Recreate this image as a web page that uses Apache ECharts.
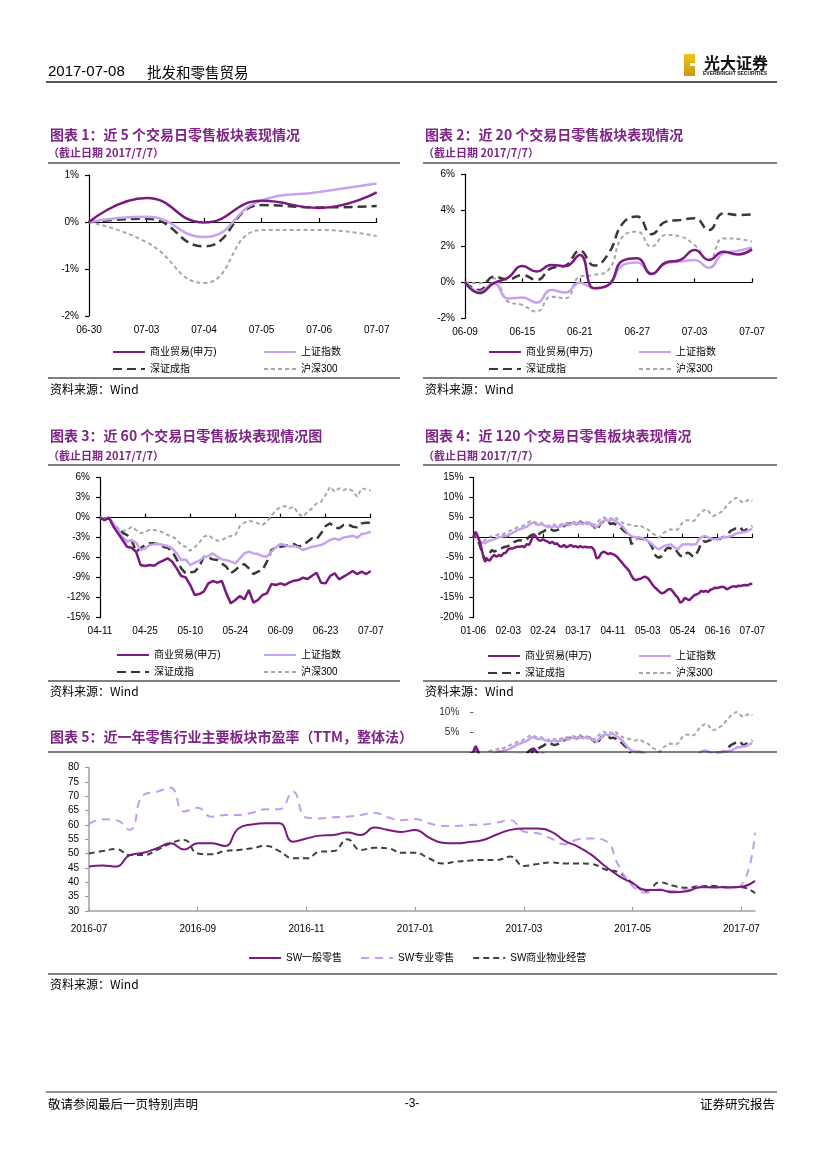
<!DOCTYPE html>
<html><head><meta charset="utf-8">
<script src="https://cdn.jsdelivr.net/npm/echarts@6/dist/echarts.min.js"></script>
<style>html,body{margin:0;padding:0;background:#fff;}#main{width:827px;height:1169px;}</style>
</head><body><div id="main"></div>
<script>
// ---------------- DATA ----------------
const tradeDays2017 = {
  '01':[6,9,10,11,12,13,16,17,18,19,20,23,24,25,26],
  '02':[3,6,7,8,9,10,13,14,15,16,17,20,21,22,23,24,27,28],
  '03':[1,2,3,6,7,8,9,10,13,14,15,16,17,20,21,22,23,24,27,28,29,30,31],
  '04':[5,6,7,10,11,12,13,14,17,18,19,20,21,24,25,26,27,28],
  '05':[2,3,4,5,8,9,10,11,12,15,16,17,18,19,22,23,24,25,26,31],
  '06':[1,2,5,6,7,8,9,12,13,14,15,16,19,20,21,22,23,26,27,28,29,30],
  '07':[3,4,5,6,7]
};
const peMonths = ['2016-07','2016-08','2016-09','2016-10','2016-11','2016-12','2017-01','2017-02','2017-03','2017-04','2017-05','2017-06'];
const peWeekDays = ['01','08','16','23'];
const peTail = ['2017-07-01','2017-07-07'];

const perfNames = ['商业贸易(申万)','上证指数','深证成指','沪深300'];
const peNames = ['SW一般零售','SW专业零售','SW商业物业经营'];

// 图表1 近5个交易日
const c1Trade = [0,0.51,-0.01,0.45,0.3,0.63];
const c1SH    = [0,0.11,-0.32,0.46,0.64,0.82];
const c1SZ    = [0,0.07,-0.52,0.36,0.31,0.34];
const c1HS300 = [0,-0.43,-1.3,-0.17,-0.17,-0.3];

// 图表2 近20个交易日
const c2Trade = [0,-0.6,-0.05,0.26,0.9,0.6,0.96,0.9,1.52,-0.33,-0.15,1.2,1.33,0.46,1.1,1.24,1.8,1.24,1.7,1.55,1.83];
const c2SH    = [0,-0.52,-0.05,-0.9,-0.85,-1.13,-0.43,-0.57,-0.02,-0.33,-0.15,0.96,1.1,0.5,1.05,1.15,1.24,0.81,1.61,1.74,1.93];
const c2SZ    = [0,-0.43,0.31,0.17,0.4,0.13,0.78,0.93,1.76,0.93,1.6,3.28,3.65,2.67,3.37,3.46,3.56,2.9,3.83,3.74,3.78];
const c2HS300 = [0,-0.05,0.22,-1.07,-1.26,-1.63,-0.8,-0.89,0.31,0.41,0.69,2.54,2.81,1.98,2.63,2.54,2.07,1.24,2.44,2.41,2.26];

// 图表3 近60个交易日
const c3Trade = [0,-0.35,0,-1.35,-2.35,-3.35,-4.35,-4.5,-5.1,-7.1,
  -7.25,-7.1,-7.2,-6.75,-6.45,-6.1,-6.6,-7.6,-8.75,-8.95,
  -10.1,-11.6,-11.45,-11.1,-9.85,-9.5,-9.75,-9.5,-11.35,-12.85,
  -12.35,-11.75,-12.25,-10.85,-12.75,-12.35,-11.6,-11.35,-9.95,-10.1,
  -9.85,-10.1,-9.7,-9.45,-9.35,-9,-9.2,-8.7,-8.25,-9.75,
  -9.85,-8.75,-8.35,-9.25,-8.85,-8.45,-8,-8.45,-8.1,-8.45,-8];
const c3SH = [0,-0.15,0,-0.85,-1.85,-2.85,-3.6,-3.35,-3.75,-4.85,
  -4.6,-4.1,-4,-3.95,-4.1,-4.25,-4.6,-5.35,-6.35,-6.25,
  -7.1,-6.75,-6.45,-5.95,-5.75,-5.35,-5.85,-6.25,-6.35,-6.6,
  -6.85,-6.1,-5.35,-5.1,-5.35,-5.45,-5.75,-5.85,-5.1,-4.45,
  -3.95,-4.1,-4.35,-4.25,-4.45,-4.85,-4.6,-4.35,-4.25,-4.1,
  -3.75,-3.35,-3.1,-3.35,-2.95,-2.85,-2.7,-3,-2.45,-2.35,-2.1];
const c3SZ = [0,-0.3,0,-1.1,-1.75,-2.25,-2.6,-3.35,-5.1,-4.6,
  -4.1,-3.85,-3.85,-3.95,-4.35,-4.5,-5.1,-6.25,-7.6,-8.35,
  -8.2,-8.1,-7.35,-5.85,-5.95,-6.25,-6.35,-6.85,-7.35,-8.35,
  -7.85,-7.25,-6.95,-7.6,-8.45,-8.1,-7.85,-6.6,-4.85,-4.5,
  -4.35,-4.25,-4.1,-3.95,-4.35,-4.1,-3.6,-3.1,-3.25,-2.35,
  -1.25,-0.85,-1.45,-1.6,-1.1,-1,-1.35,-1.45,-0.85,-0.75,-0.75];
const c3HS300 = [0,-0.2,0,-0.85,-1.6,-2,-1.85,-1.35,-1.85,-2.35,
  -2.1,-1.85,-1.85,-1.95,-2.25,-2.6,-2.85,-3.25,-4.1,-4.35,
  -4.95,-4.45,-3.75,-2.85,-2.6,-3.1,-3.45,-3.35,-2.95,-2.75,
  -2.6,-1.25,-0.75,-0.45,-0.6,-0.85,-1.1,-0.6,0.25,1.15,
  1.55,1.75,1.4,1.65,0.55,0.15,0.9,1.4,2.15,2.4,
  3.4,4.65,3.9,4.4,4.15,4.4,4,3.15,4.4,4.25,4.05];

// 图表4 近120个交易日
const c4Trade = [0,1.5,0.25,-1.4,-3.9,-6,-5.4,-5.75,-4.9,-4.3,
  -4.75,-4.3,-4.6,-3.9,-3.75,-2.9,-2.7,-2.7,-2.4,-2.25,
  -2.25,-2.1,-2.4,-1.6,-1.8,-0.6,0.9,0.25,-0.6,-0.75,
  -0.4,-0.75,-1,-1.4,-1,-1.6,-1.4,-2.1,-2.25,-1.8,
  -2.4,-2.1,-1.8,-2.25,-2.1,-2.4,-2.1,-2.4,-2.25,-2.4,
  -2.4,-2.4,-3.1,-5.2,-4.9,-3.9,-3.5,-3.75,-4.1,-3.9,
  -4.1,-4.4,-4.9,-5.6,-6.25,-7.0,-7.6,-8.3,-9.5,-10.4,
  -10.6,-10.4,-10.25,-9.9,-9.75,-10.1,-10.8,-11.7,-12.4,-12.9,
  -13.5,-13.9,-13.75,-13.3,-12.9,-12.9,-13.6,-14.4,-15.0,-16.25,
  -15.9,-15.0,-15.4,-15.6,-15.0,-14.4,-14.2,-13.9,-13.3,-13.5,
  -13.3,-13.6,-13.0,-12.8,-12.5,-12.6,-12.4,-12.25,-12.4,-12.9,
  -12.6,-12.3,-12.1,-12.3,-12.0,-12.1,-11.9,-11.8,-11.9,-11.6,-11.5];
const c4SH = [0,1.25,-0.15,-1,-1.25,-1.4,-1,-0.75,-0.6,-0.4,
  -0.15,0.25,0.1,0.5,0.4,0.65,0.9,1.25,1.5,1.9,
  2.1,2.3,2.6,2.75,3.2,3.6,3.75,3.4,3.2,3.4,
  3.2,2.9,2.75,2.6,2.75,2.9,2.6,2.75,2.9,3.2,
  3.4,3.2,3.4,3.6,3.3,3.6,3.75,3.4,3.6,3.4,
  3.6,3.3,2.9,2.6,3.2,3.6,4.25,4.4,4.25,4.4,
  4.6,4.2,3.8,3.3,2.9,2.2,1.5,0.8,0.4,0.2,
  0,0.1,0,-0.2,-0.4,-0.8,-1.2,-1.7,-2.25,-2.6,
  -2.9,-2.5,-2.1,-1.9,-1.8,-1.65,-2.2,-2.6,-2.9,-2.2,
  -1.65,-1.7,-1.6,-1.65,-1.8,-1.65,-1.6,-0.4,0.1,0.3,
  0.4,0.1,-0.15,-0.3,-0.4,-0.4,-0.1,0,0.2,0.1,
  0.3,0.4,0.7,1.0,1.25,1.2,1.4,1.4,1.7,2.0,2.25];
const c4SZ = [0,1.1,-0.6,-2.25,-4.3,-5.6,-4.75,-3.9,-3.1,-3.5,
  -3.25,-2.9,-2.7,-2.4,-2.25,-2.1,-1.8,-1.25,-1,-0.75,
  -0.6,-0.75,-0.6,-0.4,0.25,0.65,0.9,1.1,0.8,1.25,
  1.5,1.9,2.1,2.3,1.9,1.75,1.9,2.1,2.6,2.9,
  3.3,3.2,3.6,3.4,3.2,3.6,3.75,3.6,3.4,3.75,
  3.6,3.2,2.75,1.9,2.75,3.75,4,3.75,4,3.4,
  3.6,3.4,2.9,2.6,2.2,1.6,1.2,0.8,-1.6,-1.0,
  -0.3,0,-0.2,-0.3,-0.4,-0.9,-1.4,-2.5,-4.2,-4.8,
  -5.0,-4.6,-3.6,-2.8,-2.5,-2.7,-3.0,-2.9,-3.8,-4.5,
  -4.75,-4.2,-3.75,-3.9,-4.5,-4.75,-4.0,-2.9,-1.25,-0.9,
  -1.0,-0.8,-0.6,-0.5,-0.4,-0.2,-0.3,0,0.3,0.8,
  1.3,1.8,2.1,2.3,2.2,2.5,1.65,1.9,2.3,2.6,2.9];
const c4HS300 = [0,0.65,-0.15,-0.75,-1,-0.6,-0.15,0.25,0.4,0.65,
  0.65,0.9,1.1,0.9,1.25,1.5,1.75,2.1,2.3,2.6,
  2.75,2.9,3.2,3.6,4,4.25,4,3.75,3.6,3.75,
  3.4,3.2,2.9,3.2,3.4,3.2,2.9,3.2,3.4,3.6,
  3.75,3.6,3.85,4,3.75,4,4.2,3.85,4,3.85,
  3.75,3.4,3.2,3.6,4.25,4.8,5.1,4.8,5.1,4.8,
  4.8,5.2,4.6,4.2,3.75,3.5,3.3,3.3,3.1,2.9,
  2.9,3.1,3.0,2.6,2.4,2.1,1.6,1.1,0.8,0.3,
  0,0.6,1.25,1.6,2.0,2.1,1.9,1.9,2.1,3.0,
  3.8,4.2,4.4,4.3,4.2,4.2,5.0,5.8,6.25,6.8,
  7.1,6.7,6.0,5.4,5.6,6.0,6.25,6.6,7.2,8.0,
  8.6,9.2,9.6,10.0,9.8,9.2,8.75,9.0,9.4,9.6,9.2];

// 图表5 市盈率(TTM)
const peGeneral = [45.5,45.9,45.5,49.5,50.3,51.9,53.6,51.5,53.6,53.6,
  52.7,58.8,60.2,60.6,60.6,54.2,55.3,56.3,56.5,57.4,
  56.5,59.1,58.3,57.6,58.3,55.7,53.8,53.6,54.1,54.8,
  56.7,58.3,58.8,58.8,57.7,54.5,52.4,49.5,45.5,42.2,
  39.7,37.3,37.3,36.5,36.9,38.3,38.3,38.3,38.5,40.5];
const peSpecial = [60.3,62,61.7,58.3,70.5,71.6,73,64.7,66,62.9,
  63.5,63.5,64.3,65.5,65.5,71.6,62.6,62.3,62.7,62.9,
  63.5,64.3,62.7,61.7,62.1,60.6,59.7,59.7,60,60.2,
  60.8,61.7,57.7,57.1,55.3,53.3,55,55.3,54.5,45.5,
  38.7,36.4,37.6,37,37.3,38.5,38.1,37.9,39.1,57.3];
const peProperty = [50.1,50.9,51.6,49.5,49.5,51.3,53.6,54.8,50.1,49.8,
  50.9,51.3,51.9,52.7,50.9,48.4,48.4,50.7,50.9,55,
  51.3,52.1,51.9,50.3,50.3,48.4,46.6,47.2,47.6,47.8,
  47.8,49,45.7,46.4,46.9,46.6,46.6,46.4,44.5,43.4,
  39.7,37,40,38.8,38.1,38.7,38.7,38.3,38.3,36.2];

// ---------------- BUILD ----------------
const cat4 = [];
Object.keys(tradeDays2017).forEach(m => tradeDays2017[m].forEach(d => cat4.push(m + '-' + String(d).padStart(2,'0'))));
const cat3 = cat4.slice(60), cat2 = cat4.slice(100), cat1 = cat4.slice(115);
const cat5 = [];
peMonths.forEach(m => peWeekDays.forEach(d => cat5.push(m + '-' + d)));
peTail.forEach(d => cat5.push(d));

const FONT = "'Liberation Sans', 'Noto Sans CJK SC', sans-serif";
const CJK = "'Noto Sans CJK SC', 'Liberation Sans', sans-serif";
const PURPLE = '#7B1A7E';
const TITLE_C = '#7E2487';
const STY = {
  '商业贸易(申万)': {color: PURPLE, width: 2.5, type: 'solid'},
  '上证指数': {color: '#C8A2F0', width: 2.5, type: 'solid'},
  '深证成指': {color: '#383838', width: 2.5, type: [9, 5]},
  '沪深300': {color: '#A8A8A8', width: 2, type: [4, 3]},
  'SW一般零售': {color: PURPLE, width: 2, type: 'solid'},
  'SW专业零售': {color: '#C39CEF', width: 2, type: [8, 6]},
  'SW商业物业经营': {color: '#404040', width: 2, type: [6, 4]}
};

const grid = [
  {left: 89, top: 175, width: 287.7, height: 141},
  {left: 465, top: 174.3, width: 287, height: 144},
  {left: 100, top: 477.7, width: 270.7, height: 140},
  {left: 473.3, top: 477.7, width: 279, height: 140},
  {left: 89, top: 767.7, width: 666, height: 143.3},
  {left: 473.3, top: 692, width: 279, height: 60}
].map(g => Object.assign({containLabel: false, outerBoundsMode: 'none'}, g));

const xAxis = [], yAxis = [], series = [];
const axLabel = {fontSize: 10, color: '#000', fontFamily: FONT};

function perfChart(k, cats, interval, ymin, ymax, yint, smooth, data) {
  xAxis.push({type: 'category', gridIndex: k, data: cats, boundaryGap: false, position: 'bottom',
    axisLine: {show: false, onZero: false}, axisTick: {show: false},
    axisLabel: Object.assign({interval: interval, margin: 9, showMinLabel: true, showMaxLabel: true}, axLabel)});
  xAxis.push({type: 'category', gridIndex: k, data: cats, boundaryGap: false, position: 'bottom',
    axisLine: {show: true, onZero: true, lineStyle: {color: '#000', width: 1.2}},
    axisTick: {show: true, inside: true, length: 4, interval: interval, lineStyle: {color: '#000', width: 1.2}},
    axisLabel: {show: false}});
  yAxis.push({type: 'value', gridIndex: k, min: ymin, max: ymax, interval: yint,
    axisLine: {show: true, lineStyle: {color: '#000', width: 1.2}},
    axisTick: {show: true, length: 4, lineStyle: {color: '#000', width: 1.2}},
    splitLine: {show: false},
    axisLabel: Object.assign({formatter: '{value}%', margin: 10}, axLabel)});
  perfNames.forEach((n, i) => {
    const s = STY[n];
    series.push({type: 'line', name: n, xAxisIndex: 2 * k, yAxisIndex: k, data: data[i],
      smooth: smooth, symbol: 'none', showSymbol: false, color: s.color,
      itemStyle: {color: s.color},
      lineStyle: {color: s.color, width: s.width, type: s.type}, z: 10 - i});
  });
}
perfChart(0, cat1, 0, -2, 1, 1, true, [c1Trade, c1SH, c1SZ, c1HS300]);
perfChart(1, cat2, 3, -2, 6, 2, true, [c2Trade, c2SH, c2SZ, c2HS300]);
perfChart(2, cat3, 9, -15, 6, 3, false, [c3Trade, c3SH, c3SZ, c3HS300]);
perfChart(3, cat4, 14, -20, 15, 5, false, [c4Trade, c4SH, c4SZ, c4HS300]);

// chart 5
xAxis.push({type: 'category', gridIndex: 4, data: cat5, boundaryGap: false, position: 'bottom',
  axisLine: {show: true, onZero: false, lineStyle: {color: '#A0A0A0', width: 1.5}},
  axisTick: {show: true, inside: true, length: 4, interval: 7, lineStyle: {color: '#A0A0A0', width: 1.2}},
  axisLabel: Object.assign({interval: 7, margin: 13, formatter: v => v.slice(0, 7)}, axLabel)});
yAxis.push({type: 'value', gridIndex: 4, min: 30, max: 80, interval: 5,
  axisLine: {show: true, lineStyle: {color: '#A0A0A0', width: 1.5}},
  axisTick: {show: true, length: 4, lineStyle: {color: '#A0A0A0', width: 1.2}},
  splitLine: {show: false},
  axisLabel: Object.assign({margin: 10}, axLabel)});
[peGeneral, peSpecial, peProperty].forEach((d, i) => {
  const n = peNames[i], s = STY[n];
  series.push({type: 'line', name: n, xAxisIndex: 8, yAxisIndex: 4, data: d, smooth: true,
    symbol: 'none', showSymbol: false, color: s.color, itemStyle: {color: s.color},
    lineStyle: {color: s.color, width: s.width, type: s.type}, z: 10 - i});
});

// stray duplicate fragment of chart 4 visible in the reference (0%..15% band)
xAxis.push({type: 'category', gridIndex: 5, data: cat4, boundaryGap: false, show: false});
yAxis.push({type: 'value', gridIndex: 5, min: 0, max: 15, interval: 5,
  axisLine: {show: false}, axisTick: {show: true, length: 3, lineStyle: {color: '#555'}},
  splitLine: {show: false},
  axisLabel: Object.assign({}, axLabel, {margin: 14, color: '#333', formatter: v => (v === 5 || v === 10) ? v + '%' : ''})});
[c4Trade, c4SH, c4SZ, c4HS300].forEach((d, i) => {
  const n = perfNames[i], s = STY[n];
  series.push({type: 'line', name: n, xAxisIndex: 9, yAxisIndex: 5, data: d, clip: true,
    symbol: 'none', showSymbol: false, color: s.color, itemStyle: {color: s.color},
    lineStyle: {color: s.color, width: s.width, type: s.type}, z: 10 - i});
});

// legends (line-only icons)
const legBase = {itemWidth: 32, itemHeight: 10, padding: 0, selectedMode: false,
  itemStyle: {opacity: 0, borderWidth: 0},
  textStyle: {fontSize: 10, color: '#000', fontFamily: FONT}};
function legCol(left, top, names) {
  return Object.assign({}, legBase, {orient: 'vertical', left: left, top: top, itemGap: 7, data: names});
}
const legend = [
  legCol(112, 347, ['商业贸易(申万)', '深证成指']), legCol(263, 347, ['上证指数', '沪深300']),
  legCol(488, 347, ['商业贸易(申万)', '深证成指']), legCol(638, 347, ['上证指数', '沪深300']),
  legCol(116, 650, ['商业贸易(申万)', '深证成指']), legCol(263, 650, ['上证指数', '沪深300']),
  legCol(487, 651, ['商业贸易(申万)', '深证成指']), legCol(638, 651, ['上证指数', '沪深300']),
  Object.assign({}, legBase, {orient: 'horizontal', left: 248, top: 953, itemGap: 18, data: peNames})
];

// text and rules
function T(x, y, text, font, fill, align, extra) {
  return Object.assign({type: 'text', x: x, y: y, silent: true, z: 100,
    style: {text: text, font: font, fill: fill || '#000', textAlign: align || 'left', textVerticalAlign: 'middle',
      align: align || 'left', verticalAlign: 'middle'}}, extra || {});
}
function L(x1, y1, x2, y2, w, c) {
  return {type: 'line', silent: true, z: 100, shape: {x1: x1, y1: y1, x2: x2, y2: y2}, style: {stroke: c || '#000', lineWidth: w || 1}};
}
const TF = "bold 14px " + CJK, SF = "bold 11px " + CJK, SRC = "12px " + CJK;
const graphic = [
  // header
  T(48, 72, '2017-07-08', '15px ' + FONT),
  T(147, 72, '批发和零售贸易', '14.5px ' + CJK),
  L(46, 82, 777, 82, 1.5, '#222'),
  {type: 'rect', silent: true, shape: {x: 684, y: 54, width: 11, height: 22},
    style: {fill: {type: 'linear', x: 0, y: 0, x2: 0, y2: 1, colorStops: [{offset: 0, color: '#F0C419'}, {offset: 1, color: '#C99A12'}]}}},
  {type: 'rect', silent: true, shape: {x: 690, y: 63, width: 5, height: 3}, style: {fill: '#fff'}},
  T(704, 63, '光大证券', 'bold 16px ' + CJK, '#111'),
  T(703, 74, 'EVERBRIGHT SECURITIES', 'bold 5px ' + FONT, '#111'),
  // chart 1
  T(50, 135, '图表 1：近 5 个交易日零售板块表现情况', TF, TITLE_C),
  T(48, 153, '（截止日期 2017/7/7）', SF, TITLE_C),
  L(48, 163, 400, 163, 1.2), L(48, 378, 400, 378, 1.2),
  T(50, 389, '资料来源：Wind', SRC),
  // chart 2
  T(425, 135, '图表 2：近 20 个交易日零售板块表现情况', TF, TITLE_C),
  T(423, 153, '（截止日期 2017/7/7）', SF, TITLE_C),
  L(423, 163, 777, 163, 1.2), L(423, 378, 777, 378, 1.2),
  T(425, 389, '资料来源：Wind', SRC),
  // chart 3
  T(50, 436, '图表 3：近 60 个交易日零售板块表现情况图', TF, TITLE_C),
  T(48, 456, '（截止日期 2017/7/7）', SF, TITLE_C),
  L(48, 465, 400, 465, 1.2), L(48, 681, 400, 681, 1.2),
  T(50, 691, '资料来源：Wind', SRC),
  // chart 4
  T(425, 436, '图表 4：近 120 个交易日零售板块表现情况', TF, TITLE_C),
  T(423, 456, '（截止日期 2017/7/7）', SF, TITLE_C),
  L(423, 465, 777, 465, 1.2), L(423, 681, 777, 681, 1.2),
  T(425, 691, '资料来源：Wind', SRC),
  // chart 5
  T(50, 737, '图表 5：近一年零售行业主要板块市盈率（TTM，整体法）', TF, TITLE_C),
  L(48, 752, 777, 752, 1.2), L(48, 974, 777, 974, 1.2),
  T(50, 984, '资料来源：Wind', SRC),
  // footer
  L(46, 1092, 777, 1092, 1.2, '#222'),
  T(48, 1104, '敬请参阅最后一页特别声明', '12.5px ' + CJK),
  T(412, 1104, '-3-', '12px ' + FONT, '#000', 'center'),
  T(775, 1104, '证券研究报告', '12.5px ' + CJK, '#000', 'right')
];

const chart = echarts.init(document.getElementById('main'), null, {renderer: 'canvas', width: 827, height: 1169});
chart.setOption({
  animation: false,
  backgroundColor: '#fff',
  textStyle: {fontFamily: FONT},
  grid: grid, xAxis: xAxis, yAxis: yAxis, series: series, legend: legend, graphic: graphic
});
</script></body></html>
